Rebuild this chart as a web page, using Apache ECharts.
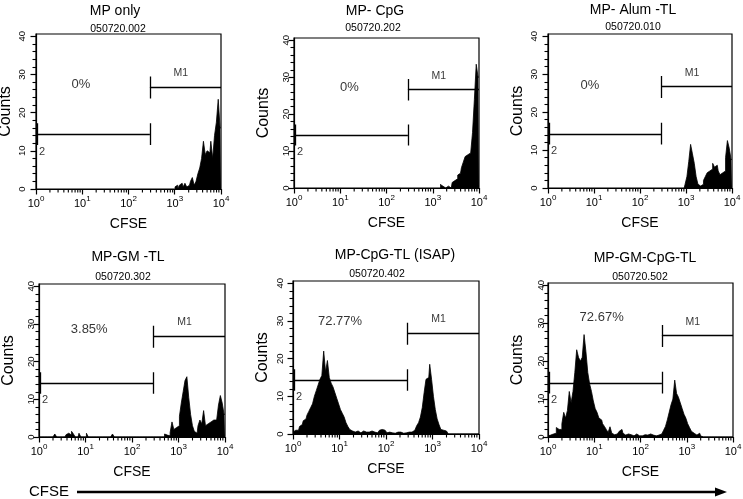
<!DOCTYPE html>
<html><head><meta charset="utf-8">
<script src="https://cdn.jsdelivr.net/npm/echarts@6/dist/echarts.min.js"></script>
<style>html,body{margin:0;padding:0;background:#fff}#c{width:743px;height:499px}</style>
</head><body><div id="c"></div><script>
// ---------------- data ----------------
const panelTitles = ['MP only', 'MP- CpG', 'MP- Alum -TL', 'MP-GM -TL', 'MP-CpG-TL (ISAP)', 'MP-GM-CpG-TL'];
const sampleIds = ['050720.002', '050720.202', '050720.010', '050720.302', '050720.402', '050720.502'];
const percentTexts = ['0%', '0%', '0%', '3.85%', '72.77%', '72.67%'];
// percent label anchor: [log10 CFSE, counts]
const percentAnchors = [[0.97, 27.3], [1.2, 27.2], [0.91, 27.1], [1.08, 28.5], [1.01, 29.9], [1.16, 31.6]];
const yTickValues = [0, 10, 20, 30, 40];
// marker gates (CFSE values) and their bar heights (counts)
const gateM1 = [290, 10000];
const gateM2 = [1.05, 290];
const m1Level = 26.7, m1Tick = [23.7, 29.5];
const m2Level = 14.3, m2Tick = [11.5, 17.2];
const m1LabelAt = [1350, 30.4];
const m2LabelAt = [1.35, 9.7];
// histogram bins: width 0.04 decade, first bin centre (log10)
const binStep = 0.04;
const histStart = [3.00, 3.16, 2.96, 0, 0, 0];
const countsMPOnly = [0.5,1,0,1,1.5,0.5,1.5,0.5,1,2,3,1,2,4,5.5,8,12.5,9,10,9.5,12.5,8,14,17.5,23.5,16];
const countsMPCpG = [1,0.5,0,0,0.5,1,0,1.5,2,2.5,3.5,4,5.5,7,8.5,9,9.5,10,15,24,33.5,30];
const countsMPAlumTL = [0,1,3,7,11.5,9,6.5,3,1,0.5,1,2,3,4,4.5,5,6.5,5.5,6,4.5,3.5,4,4.5,8,12.5,10.5,7.5];
const countsMPGMTL = [
  0,0,0,0,0,0,0,0,0,0.8,
  0,0,0,0,0,0.6,1,0.5,1.5,0.8,
  0,0,1,0,0,0,1,0,0,0,
  0,0,0,0,0,0,0,0,0,0,
  0.8,0,0,0,0,0,0,0,0,0,
  0,0,0,0,0,0,0,0,0,0,
  0,0,0,0,0,0,0,0,0.8,0.5,
  0.3,1.2,4,2,2.5,3,5.5,9,12,15,
  16,10.5,6,3,1.5,1,3,4.5,3.5,7,
  3,3.5,4,3.5,4.5,4.5,5,8.5,11,9,
  6];
const countsMPCpGTL = [
  0.5,1,1.5,1,2,2.5,3.5,4,5,6,
  7,8,10,11.5,13,14.5,15.5,22,16.5,19.5,
  15,13.5,12.5,11,9.5,8,6.5,5.5,4.5,3,
  2,1.2,0.8,0.5,0.3,0.8,0.3,0.5,0.8,0.5,
  0.3,0.5,0.8,0.3,0.5,0.3,0.5,1,1.2,1,
  0.5,0.3,0.5,0.3,0.5,0.2,0.5,0.3,0.5,0.2,
  0.4,0.3,0.5,0.8,0.5,1,1.5,2.2,3,4.5,
  7,11,14.5,15,18.5,14.5,10,6.5,4,2.5,
  1.2,1,0.8,0.3,0,0,0,0,0,0,
  0,0,0,0,0,0,0,0,0,0,
  0];
const countsMPGMCpGTL = [
  0.3,0.5,0.3,0.8,1,2.5,2,2,3.5,6.5,
  5,7,12,9,12,17,23,21,20,21,
  27,22.5,17,14,12,9.5,7.5,6.5,5,4.5,
  3.5,2.8,2,1.2,2.7,1,0.6,0.8,0.5,1.5,
  2,1,0.5,0.8,0.3,0.6,0.3,0.5,0.8,0.3,
  0.5,0.3,0.6,0.3,0.5,0.8,0.3,0.5,0.3,0.6,
  0.5,0.8,1,1.8,2.8,4.5,6.5,8.5,10,15,
  11.5,10.5,9,7.5,6,5,3.5,2.5,1.5,1,
  0.5,0.3,1,0.3,0,0,0,0,0,0,
  0,0,0,0,0,0,0,0,0,0,
  0];
const panelCounts = [countsMPOnly, countsMPCpG, countsMPAlumTL, countsMPGMTL, countsMPCpGTL, countsMPGMCpGTL];

// ---------------- layout / style ----------------
const FONT = 'Liberation Sans, Arial, Helvetica, sans-serif';
const gridBoxes = [[36,34,185,155],[294,38,185,150],[548,34,184,154],[39,284,186,153],[293,281,186,153],[548,283,185,154]];
const yLabelMargin = [9, 3, 9, 3, 8, 2];
const titlePos = [[115,11],[375,11],[633,10],[128,257],[395,255],[645,258]];
const subPos = [[118,29],[373,28],[633,27],[123,277],[377,274],[640,277]];
const Y_MAX = 40.6;
const black = '#000';

// minor x tick positions: 2..9 within each decade
const minorX = [];
for (let d = 0; d < 4; d++) for (let k = 2; k <= 9; k++) minorX.push(k * Math.pow(10, d));

const grid = [], xAxis = [], yAxis = [], series = [], graphic = [];

function minorXTicks(xi, yi) {
  return {
    type: 'custom', xAxisIndex: xi, yAxisIndex: yi, silent: true, clip: false, z: 5,
    data: minorX.map(v => [v, 0]),
    renderItem: (params, api) => {
      const pt = api.coord([api.value(0), api.value(1)]);
      return {type: 'line', shape: {x1: pt[0], y1: pt[1], x2: pt[0], y2: pt[1] + 3.5},
        style: {stroke: black, lineWidth: 1.1}};
    }
  };
}

panelCounts.forEach((counts, p) => {
  const [l, t, w, h] = gridBoxes[p];
  grid.push({left: l, top: t, width: w, height: h, show: true, borderColor: black, borderWidth: 1.2,
    backgroundColor: 'transparent', containLabel: false, outerBoundsMode: 'none'});
  xAxis.push({
    type: 'log', logBase: 10, gridIndex: p, min: 1, max: 10000, position: 'bottom',
    axisLine: {show: true, lineStyle: {color: black, width: 1.2}},
    axisTick: {show: true, length: 5.5, lineStyle: {color: black, width: 1.2}},
    axisLabel: {
      margin: 6, color: black,
      formatter: v => '{b|10}{s|' + Math.round(Math.log10(v)) + '}',
      rich: {
        b: {fontSize: 11, fontFamily: FONT, color: black, verticalAlign: 'bottom', lineHeight: 14},
        s: {fontSize: 8, fontFamily: FONT, color: black, verticalAlign: 'top', lineHeight: 14}
      }
    },
    splitLine: {show: false},
    name: 'CFSE', nameLocation: 'middle', nameGap: 28,
    nameTextStyle: {fontSize: 14, fontFamily: FONT, color: black}
  });
  yAxis.push({
    type: 'value', gridIndex: p, min: 0, max: Y_MAX, position: 'left',
    axisLine: {show: true, lineStyle: {color: black, width: 1.2}},
    axisTick: {show: true, length: 5.5, customValues: yTickValues, lineStyle: {color: black, width: 1.2}},
    minorTick: {show: true, splitNumber: 5, length: 3.5, lineStyle: {color: black, width: 1.1}},
    axisLabel: {customValues: yTickValues, rotate: 90, margin: yLabelMargin[p], fontSize: 9.5, fontFamily: FONT, color: black},
    splitLine: {show: false}, minorSplitLine: {show: false},
    name: 'Counts', nameLocation: 'middle', nameGap: 22,
    nameTextStyle: {fontSize: 16, fontFamily: FONT, color: black}
  });

  const xi = p, yi = p;
  series.push({
    type: 'line', xAxisIndex: xi, yAxisIndex: yi, step: 'middle', symbol: 'none', silent: true,
    data: counts.map((c, i) => [Math.pow(10, histStart[p] + i * binStep), c]),
    lineStyle: {color: black, width: 0.8}, areaStyle: {color: black, opacity: 1}, z: 2
  });
  series.push({
    type: 'lines', coordinateSystem: 'cartesian2d', xAxisIndex: xi, yAxisIndex: yi, silent: true,
    lineStyle: {color: black, width: 1.3, opacity: 1, curveness: 0}, z: 3,
    data: [
      {coords: [[gateM1[0], m1Tick[0]], [gateM1[0], m1Tick[1]]]},
      {coords: [[gateM1[0], m1Level], [gateM1[1], m1Level]]},
      {coords: [[gateM2[0], m2Level], [gateM2[1], m2Level]]},
      {coords: [[gateM2[0], m2Tick[0]], [gateM2[0], m2Tick[1]]]},
      {coords: [[gateM2[1], m2Tick[0]], [gateM2[1], m2Tick[1]]]}
    ]
  });
  series.push({
    type: 'scatter', xAxisIndex: xi, yAxisIndex: yi, silent: true, symbolSize: 1,
    itemStyle: {color: 'rgba(0,0,0,0)'}, z: 4,
    label: {show: true, position: 'inside', color: black, fontFamily: FONT, textBorderWidth: 0},
    data: [
      {value: [Math.pow(10, percentAnchors[p][0]), percentAnchors[p][1]], label: {formatter: percentTexts[p], fontSize: 13}},
      {value: m1LabelAt, label: {formatter: 'M1', fontSize: 10.5}},
      {value: m2LabelAt, label: {formatter: '2', fontSize: 11}}
    ]
  });
  series.push(minorXTicks(xi, yi));

  graphic.push({type: 'text', x: titlePos[p][0], y: titlePos[p][1], silent: true,
    style: {text: panelTitles[p], fill: black, font: '14px ' + FONT, align: 'center', verticalAlign: 'middle'}});
  graphic.push({type: 'text', x: subPos[p][0], y: subPos[p][1], silent: true,
    style: {text: sampleIds[p], fill: black, font: '10.5px ' + FONT, align: 'center', verticalAlign: 'middle'}});
});

graphic.push({type: 'text', x: 49, y: 492, silent: true,
  style: {text: 'CFSE', fill: black, font: '15px ' + FONT, align: 'center', verticalAlign: 'middle'}});
graphic.push({type: 'line', silent: true, shape: {x1: 77, y1: 492, x2: 718, y2: 492}, style: {stroke: black, lineWidth: 2.5}});
graphic.push({type: 'polygon', silent: true, shape: {points: [[715, 487.5], [727, 492], [715, 496.5]]}, style: {fill: black}});

const chart = echarts.init(document.getElementById('c'), null, {renderer: 'canvas'});
chart.setOption({
  animation: false, backgroundColor: '#fff',
  grid, xAxis, yAxis, series, graphic
});
</script></body></html>
